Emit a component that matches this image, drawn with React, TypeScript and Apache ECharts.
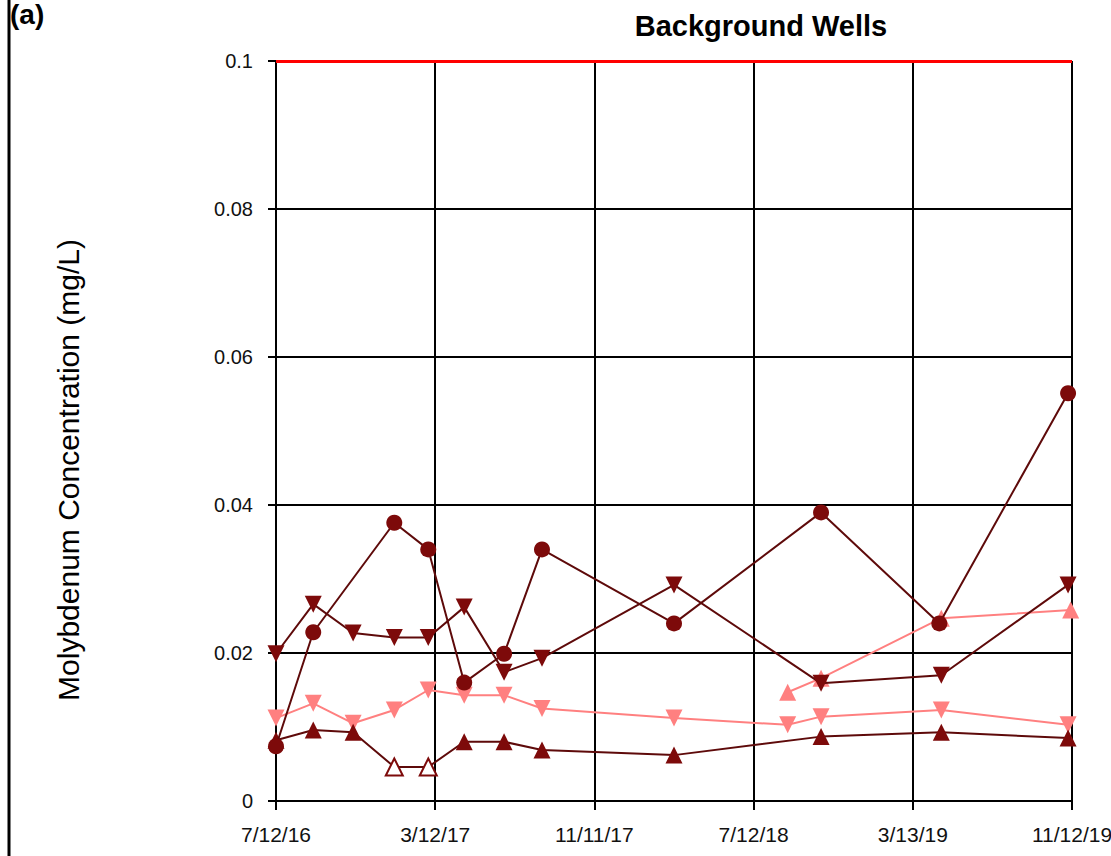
import React, { useEffect, useRef } from "react";
import * as echarts from "echarts";

const START = "2016-07-12";
const X_TICK_LABELS = ["7/12/16", "3/12/17", "11/11/17", "7/12/18", "3/13/19", "11/12/19"];
const X_SPAN_DAYS = 1218;

// Dark red circles
const circleDates = ["2016-07-12", "2016-09-07", "2017-01-09", "2017-03-02", "2017-04-26", "2017-06-26", "2017-08-23", "2018-03-13", "2018-10-24", "2019-04-23", "2019-11-06"];
const circleValues = [0.0074, 0.0228, 0.0376, 0.034, 0.016, 0.0199, 0.034, 0.024, 0.039, 0.024, 0.0551];

// Dark red down-triangles
const downDarkDates = ["2016-07-12", "2016-09-07", "2016-11-07", "2017-01-09", "2017-03-02", "2017-04-26", "2017-06-26", "2017-08-23", "2018-03-13", "2018-10-24", "2019-04-26", "2019-11-06"];
const downDarkValues = [0.0199, 0.0266, 0.0227, 0.0221, 0.0221, 0.0262, 0.0174, 0.0193, 0.0292, 0.0159, 0.017, 0.0292];

// Pink down-triangles
const downPinkDates = ["2016-07-12", "2016-09-07", "2016-11-07", "2017-01-09", "2017-03-02", "2017-04-26", "2017-06-26", "2017-08-23", "2018-03-13", "2018-09-03", "2018-10-24", "2019-04-26", "2019-11-06"];
const downPinkValues = [0.0112, 0.0132, 0.0105, 0.0123, 0.015, 0.0143, 0.0143, 0.0125, 0.0112, 0.0103, 0.0114, 0.0123, 0.0103];

// Dark red up-triangles (hollow = non-detect)
const upDarkDates = ["2016-07-12", "2016-09-07", "2016-11-07", "2017-01-09", "2017-03-02", "2017-04-26", "2017-06-26", "2017-08-23", "2018-03-13", "2018-10-24", "2019-04-26", "2019-11-06"];
const upDarkValues = [0.0082, 0.0096, 0.0093, 0.0046, 0.0046, 0.008, 0.008, 0.0069, 0.0062, 0.0087, 0.0093, 0.0085];
const upDarkHollow = [false, false, false, true, true, false, false, false, false, false, false, false];

// Pink up-triangles
const upPinkDates = ["2018-09-03", "2018-10-24", "2019-04-26", "2019-11-10"];
const upPinkValues = [0.0147, 0.0166, 0.0247, 0.0258];

const LIMIT = 0.1;

const DARK = "#7d0a0a";
const DARK_LINE = "#5e0a0a";
const PINK = "#ff8080";

function days(d: string): number {
  return (Date.parse(d) - Date.parse(START)) / 86400000;
}

export default function App() {
  const ref = useRef<HTMLDivElement>(null);
  useEffect(() => {
    if (!ref.current) return;
    const chart = echarts.init(ref.current, null, { renderer: "svg" });
    const font = "Liberation Sans, Arial, sans-serif";
    const interval = X_SPAN_DAYS / 5;
    const lineStyle = (c: string) => ({ color: c, width: 2 });
    chart.setOption({
      animation: false,
      backgroundColor: "#ffffff",
      grid: { left: 276, right: 39, top: 61, bottom: 55, containLabel: false, outerBoundsMode: "none" },
      title: {
        text: "Background Wells",
        left: 756,
        top: 6,
        textAlign: "center",
        textStyle: { fontFamily: font, fontWeight: "bold", fontSize: 29, color: "#000" },
      },
      graphic: [
        { type: "line", shape: { x1: 9, y1: 0, x2: 9, y2: 856 }, style: { stroke: "#000", lineWidth: 3 } },
        { type: "text", x: 10, y: 0, style: { text: "(a)", fontFamily: font, fontWeight: "bold", fontSize: 28, fill: "#000" } },
        {
          type: "text",
          x: 68,
          y: 470,
          rotation: Math.PI / 2,
          style: { text: "Molybdenum Concentration (mg/L)", fontFamily: font, fontSize: 30, fill: "#000", align: "center", verticalAlign: "middle" },
        },
      ],
      xAxis: {
        type: "value",
        min: 0,
        max: X_SPAN_DAYS,
        interval,
        axisLine: { lineStyle: { color: "#000", width: 2 } },
        axisTick: { show: true, length: 9, lineStyle: { color: "#000", width: 2 } },
        splitLine: { show: true, lineStyle: { color: "#000", width: 2 } },
        axisLabel: {
          margin: 23,
          fontFamily: font,
          fontSize: 21,
          color: "#111",
          formatter: (v: number) => X_TICK_LABELS[Math.round(v / interval)] ?? "",
        },
      },
      yAxis: {
        type: "value",
        min: 0,
        max: 0.1,
        interval: 0.02,
        axisLine: { show: true, lineStyle: { color: "#000", width: 2 } },
        axisTick: { show: true, length: 8, lineStyle: { color: "#000", width: 2 } },
        splitLine: { show: true, lineStyle: { color: "#000", width: 2 } },
        axisLabel: { margin: 23, fontFamily: font, fontSize: 20, color: "#111" },
      },
      series: [
        {
          type: "line",
          data: circleDates.map((d, i) => [days(d), circleValues[i]]),
          symbol: "circle",
          symbolSize: 16,
          itemStyle: { color: DARK },
          lineStyle: lineStyle(DARK_LINE),
          z: 5,
          markLine: {
            silent: true,
            symbol: "none",
            label: { show: false },
            lineStyle: { color: "#ff0000", width: 3, type: "solid" },
            data: [{ yAxis: LIMIT }],
          },
        },
        {
          type: "line",
          data: downDarkDates.map((d, i) => [days(d), downDarkValues[i]]),
          symbol: "triangle",
          symbolRotate: 180,
          symbolSize: 17,
          itemStyle: { color: DARK },
          lineStyle: lineStyle(DARK_LINE),
          z: 4,
        },
        {
          type: "line",
          data: downPinkDates.map((d, i) => [days(d), downPinkValues[i]]),
          symbol: "triangle",
          symbolRotate: 180,
          symbolSize: 17,
          itemStyle: { color: PINK },
          lineStyle: lineStyle(PINK),
          z: 3,
        },
        {
          type: "line",
          data: upDarkDates.map((d, i) => ({
            value: [days(d), upDarkValues[i]],
            itemStyle: upDarkHollow[i] ? { color: "#fff", borderColor: DARK, borderWidth: 2 } : { color: DARK },
          })),
          symbol: "triangle",
          symbolSize: 17,
          itemStyle: { color: DARK },
          lineStyle: lineStyle(DARK_LINE),
          z: 4,
        },
        {
          type: "line",
          data: upPinkDates.map((d, i) => [days(d), upPinkValues[i]]),
          symbol: "triangle",
          symbolSize: 17,
          itemStyle: { color: PINK },
          lineStyle: lineStyle(PINK),
          z: 3,
        },
      ],
    });
    return () => chart.dispose();
  }, []);
  return <div ref={ref} style={{ position: "absolute", left: 0, top: 0, width: 1111, height: 856 }} />;
}
